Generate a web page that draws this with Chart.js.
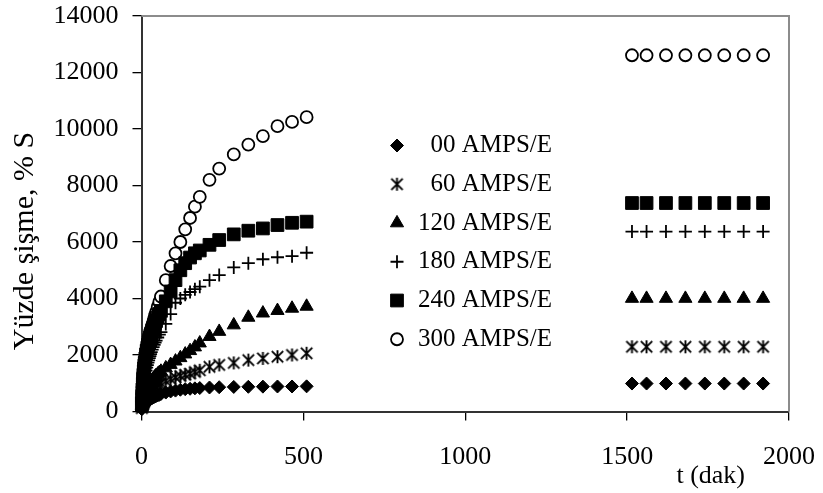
<!DOCTYPE html>
<html>
<head>
<meta charset="utf-8">
<title>Yüzde şişme</title>
<script src="https://cdn.jsdelivr.net/npm/chart.js@4/dist/chart.umd.min.js"></script>
<style>
  html, body { margin: 0; padding: 0; background: #fff; }
  #wrap { width: 823px; height: 493px; position: relative; }
</style>
</head>
<body>
<div id="wrap"><canvas id="swellChart"></canvas></div>
<script>
// sampling times (dak): dense first hour, then the long-time readings
const times = [1, 2, 3, 4, 5, 6, 7, 8, 9, 10, 12, 14, 16, 18, 20, 22, 24, 26, 28, 30,
  33, 36, 39, 42, 45, 50, 55, 60,
  75, 90, 105, 120, 135, 150, 165, 180, 210, 240, 285, 330, 375, 420, 465, 510,
  1515, 1560, 1620, 1680, 1740, 1800, 1860, 1920];

// % swelling for each AMPS/E ratio
const s00 = [80, 120, 150, 170, 190, 210, 230, 250, 265, 280, 300, 320, 340, 360, 380, 390, 410, 420, 440, 460,
  480, 500, 515, 530, 550, 570, 590, 620,
  670, 710, 740, 770, 790, 805, 820, 830, 850, 860, 870, 875, 880, 885, 885, 890,
  990, 990, 990, 990, 990, 990, 990, 990];
const s60 = [120, 170, 210, 250, 280, 310, 340, 370, 400, 420, 460, 500, 540, 570, 600, 630, 660, 690, 710, 730,
  770, 800, 830, 860, 890, 940, 975, 1010,
  1080, 1150, 1210, 1260, 1300, 1340, 1400, 1460, 1580, 1650, 1720, 1820, 1880, 1940, 2000, 2060,
  2290, 2290, 2290, 2290, 2290, 2290, 2290, 2290];
const s120 = [150, 220, 280, 330, 380, 420, 460, 500, 540, 570, 630, 690, 740, 790, 840, 880, 920, 960, 1000, 1040,
  1090, 1140, 1190, 1230, 1270, 1320, 1370, 1420,
  1540, 1660, 1780, 1900, 2030, 2150, 2280, 2420, 2650, 2830, 3060, 3330, 3480, 3570, 3650, 3720,
  4000, 4000, 4000, 4000, 4000, 4000, 4000, 4000];
const s180 = [250, 420, 570, 700, 810, 910, 1000, 1080, 1150, 1220, 1340, 1450, 1550, 1640, 1730, 1810, 1890, 1960, 2030, 2100,
  2190, 2280, 2360, 2440, 2510, 2620, 2720, 2810,
  3100, 3450, 3850, 4000, 4130, 4230, 4330, 4420, 4650, 4830, 5100, 5250, 5390, 5460, 5500, 5620,
  6370, 6370, 6370, 6370, 6370, 6370, 6370, 6370];
const s240 = [300, 550, 780, 980, 1150, 1300, 1420, 1530, 1630, 1720, 1880, 2020, 2150, 2260, 2360, 2450, 2540, 2620, 2700, 2770,
  2870, 2960, 3050, 3130, 3200, 3330, 3450, 3560,
  3900, 4250, 4650, 5000, 5250, 5450, 5600, 5700, 5900, 6070, 6270, 6400, 6480, 6600, 6680, 6720,
  7380, 7380, 7380, 7380, 7380, 7380, 7380, 7380];
const s300 = [350, 620, 860, 1060, 1230, 1380, 1500, 1610, 1710, 1800, 1960, 2100, 2230, 2350, 2460, 2560, 2660, 2750, 2840, 2920,
  3040, 3160, 3280, 3400, 3520, 3700, 3880, 4070,
  4650, 5150, 5600, 6000, 6450, 6850, 7250, 7600, 8200, 8600, 9100, 9450, 9750, 10100, 10250, 10420,
  12610, 12610, 12610, 12610, 12610, 12610, 12610, 12610];

const labels = ['00 AMPS/E', '60 AMPS/E', '120 AMPS/E', '180 AMPS/E', '240 AMPS/E', '300 AMPS/E'];
const series = [s00, s60, s120, s180, s240, s300];

const FONT = '"Liberation Serif", "Times New Roman", serif';

// excel-style asterisk: an X with a vertical bar through it
function makeStar() {
  const c = document.createElement('canvas');
  c.width = 15; c.height = 15;
  const g = c.getContext('2d');
  g.strokeStyle = '#000';
  g.lineWidth = 1.9;
  g.beginPath();
  g.moveTo(1.8, 1.8); g.lineTo(13.2, 13.2);
  g.moveTo(13.2, 1.8); g.lineTo(1.8, 13.2);
  g.moveTo(7.5, 1); g.lineTo(7.5, 14);
  g.stroke();
  return c;
}

const markers = [
  { pointStyle: 'rectRot', pointRadius: 6.5, pointBorderWidth: 1, pointBackgroundColor: '#000' },
  { pointStyle: makeStar(), pointRadius: 7, pointBorderWidth: 0, pointBackgroundColor: '#000' },
  { pointStyle: 'triangle', pointRadius: 7.6, pointBorderWidth: 1, pointBackgroundColor: '#000' },
  { pointStyle: 'cross', pointRadius: 6.5, pointBorderWidth: 1.8, pointBackgroundColor: '#000' },
  { pointStyle: 'rect', pointRadius: 9, pointBorderWidth: 1, pointBackgroundColor: '#000' },
  { pointStyle: 'circle', pointRadius: 6, pointBorderWidth: 1.8, pointBackgroundColor: '#fff' }
];

const datasets = series.map((vals, i) => Object.assign({
  label: labels[i],
  data: times.map((t, k) => ({ x: t, y: vals[k] })),
  pointBorderColor: '#000',
  showLine: false,
  clip: false
}, markers[i]));

// plot frame, legend block and axis titles
const extras = {
  id: 'extras',
  beforeDatasetsDraw(chart) {
    const { ctx, chartArea: a } = chart;
    ctx.save();
    ctx.strokeStyle = '#8c8c8c';
    ctx.lineWidth = 2;
    ctx.beginPath();
    ctx.moveTo(a.left, a.top);
    ctx.lineTo(a.right, a.top);
    ctx.lineTo(a.right, a.bottom);
    ctx.stroke();
    ctx.restore();
  },
  afterDraw(chart) {
    const ctx = chart.ctx;
    ctx.save();

    // legend
    const lx = 397, tx = 552, ly = 145.5, step = 38.75;
    chart.data.datasets.forEach((ds, i) => {
      const y = ly + i * step;
      ctx.fillStyle = ds.pointBackgroundColor;
      ctx.strokeStyle = '#000';
      ctx.lineWidth = ds.pointBorderWidth;
      Chart.helpers.drawPoint(ctx, {
        pointStyle: ds.pointStyle,
        radius: ds.pointRadius,
        borderWidth: ds.pointBorderWidth,
        rotation: 0
      }, lx, y);
      ctx.fillStyle = '#000';
      ctx.font = '25px ' + FONT;
      ctx.textAlign = 'right';
      ctx.textBaseline = 'middle';
      ctx.fillText(ds.label, tx, y);
    });

    // y title
    ctx.save();
    ctx.translate(25, 241);
    ctx.rotate(-Math.PI / 2);
    ctx.font = '30px ' + FONT;
    ctx.textAlign = 'center';
    ctx.textBaseline = 'middle';
    ctx.fillStyle = '#000';
    ctx.fillText('Yüzde şişme, % S', 0, 0);
    ctx.restore();

    // x title
    ctx.font = '26px ' + FONT;
    ctx.textAlign = 'right';
    ctx.textBaseline = 'alphabetic';
    ctx.fillStyle = '#000';
    ctx.fillText('t (dak)', 745, 483);
    ctx.restore();
  }
};

const tickFont = { family: FONT, size: 26 };

const config = {
  type: 'scatter',
  data: { datasets: datasets },
  options: {
    responsive: true,
    maintainAspectRatio: false,
    animation: false,
    layout: { padding: { left: 0, right: 34, top: 16, bottom: 0 } },
    plugins: { legend: { display: false }, tooltip: { enabled: false } },
    scales: {
      x: {
        type: 'linear',
        min: 0,
        max: 2000,
        ticks: { stepSize: 500, padding: 21, color: '#000', font: tickFont, maxRotation: 0,
          callback: v => String(v) },
        grid: { drawOnChartArea: false, tickLength: 9, color: '#000', lineWidth: 1.3 },
        border: { color: '#333', width: 2 },
        afterFit(s) {
          // fixed frame: the layout padding alone sets the plot edges
          s.height = 81.5;
          s.paddingLeft = 0;
          s.paddingRight = 0;
        }
      },
      y: {
        min: 0,
        max: 14000,
        ticks: { stepSize: 2000, padding: 14, color: '#000', font: tickFont,
          callback: v => String(v) },
        grid: { drawOnChartArea: false, tickLength: 9, color: '#000', lineWidth: 1.3 },
        border: { color: '#333', width: 2 },
        afterFit(s) {
          s.width = 141.5;
          s.paddingTop = 0;
          s.paddingBottom = 0;
        }
      }
    }
  },
  plugins: [extras]
};

const swellChart = new Chart(document.getElementById('swellChart'), config);
</script>
</body>
</html>
